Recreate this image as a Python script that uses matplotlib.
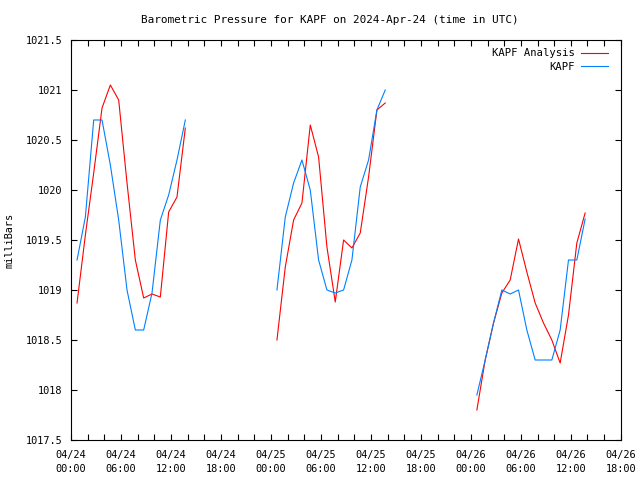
import numpy as np
import matplotlib
matplotlib.use("Agg")
import matplotlib.pyplot as plt

# hours since 2024-04-24 00:00 UTC, one block of hourly values per day
day_starts = [0.72, 24.72, 48.72]

analysis_day1 = [1018.87, 1019.55, 1020.17, 1020.82, 1021.05, 1020.9, 1020.07,
                 1019.3, 1018.92, 1018.96, 1018.93, 1019.78, 1019.93, 1020.62]
analysis_day2 = [1018.5, 1019.23, 1019.7, 1019.87, 1020.65, 1020.33, 1019.43,
                 1018.88, 1019.5, 1019.42, 1019.57, 1020.13, 1020.8, 1020.87]
analysis_day3 = [1017.8, 1018.3, 1018.67, 1018.97, 1019.1, 1019.51, 1019.18,
                 1018.87, 1018.67, 1018.5, 1018.27, 1018.75, 1019.47, 1019.77]

obs_day1 = [1019.3, 1019.73, 1020.7, 1020.7, 1020.25, 1019.7, 1019.0,
            1018.6, 1018.6, 1018.97, 1019.7, 1019.95, 1020.3, 1020.7]
obs_day2 = [1019.0, 1019.73, 1020.07, 1020.3, 1020.0, 1019.3, 1019.0,
            1018.97, 1019.0, 1019.3, 1020.03, 1020.3, 1020.8, 1021.0]
obs_day3 = [1017.95, 1018.3, 1018.67, 1019.0, 1018.96, 1019.0, 1018.6,
            1018.3, 1018.3, 1018.3, 1018.6, 1019.3, 1019.3, 1019.71]

tick_hours = [0, 6, 12, 18, 24, 30, 36, 42, 48, 54, 60, 66]
tick_labels = ["04/24\n00:00", "04/24\n06:00", "04/24\n12:00", "04/24\n18:00",
               "04/25\n00:00", "04/25\n06:00", "04/25\n12:00", "04/25\n18:00",
               "04/26\n00:00", "04/26\n06:00", "04/26\n12:00", "04/26\n18:00"]


def join_days(days):
    # NaN between days so the line breaks at the gaps
    xs, ys = [], []
    for start, vals in zip(day_starts, days):
        xs += list(start + np.arange(len(vals))) + [np.nan]
        ys += list(vals) + [np.nan]
    return np.array(xs), np.array(ys)


plt.rcParams["font.family"] = "DejaVu Sans Mono"
plt.rcParams["font.size"] = 7.4

fig = plt.figure(figsize=(6.4, 4.8), dpi=100)
ax = fig.add_axes([0.111, 0.0833, 0.859, 0.8334])

x, y = join_days([analysis_day1, analysis_day2, analysis_day3])
ax.plot(x, y, color="#ff0000", lw=0.8, label="KAPF Analysis")
x, y = join_days([obs_day1, obs_day2, obs_day3])
ax.plot(x, y, color="#0080ff", lw=0.8, label="KAPF")

ax.set_xlim(0, 66)
ax.set_ylim(1017.5, 1021.5)
ax.set_xticks(tick_hours)
ax.set_xticklabels(tick_labels, linespacing=1.5)
ax.set_xticks(np.arange(0, 67, 2), minor=True)
ax.set_yticks(np.arange(1017.5, 1021.6, 0.5))
ax.set_yticklabels(["%g" % v for v in np.arange(1017.5, 1021.6, 0.5)])
ax.tick_params(direction="in", top=True, right=True, length=4, width=0.8, pad=6)
ax.tick_params(axis="x", which="major", length=4, pad=7)
ax.tick_params(axis="x", which="minor", direction="in", top=True, length=4, width=0.8)
for s in ax.spines.values():
    s.set_linewidth(0.8)

ax.set_ylabel("milliBars", labelpad=8)
fig.text(330 / 640, 1 - 20 / 480,
         "Barometric Pressure for KAPF on 2024-Apr-24 (time in UTC)",
         fontsize=7.9, ha="center", va="center")
ax.legend(loc="upper right", bbox_to_anchor=(1 - 5 / 550, 1 - 1 / 400),
          frameon=False, markerfirst=False, handlelength=2.6, fontsize=7.6,
          borderaxespad=0.3, labelspacing=0.35, handletextpad=0.6)

fig.savefig("out.png", dpi=100)
